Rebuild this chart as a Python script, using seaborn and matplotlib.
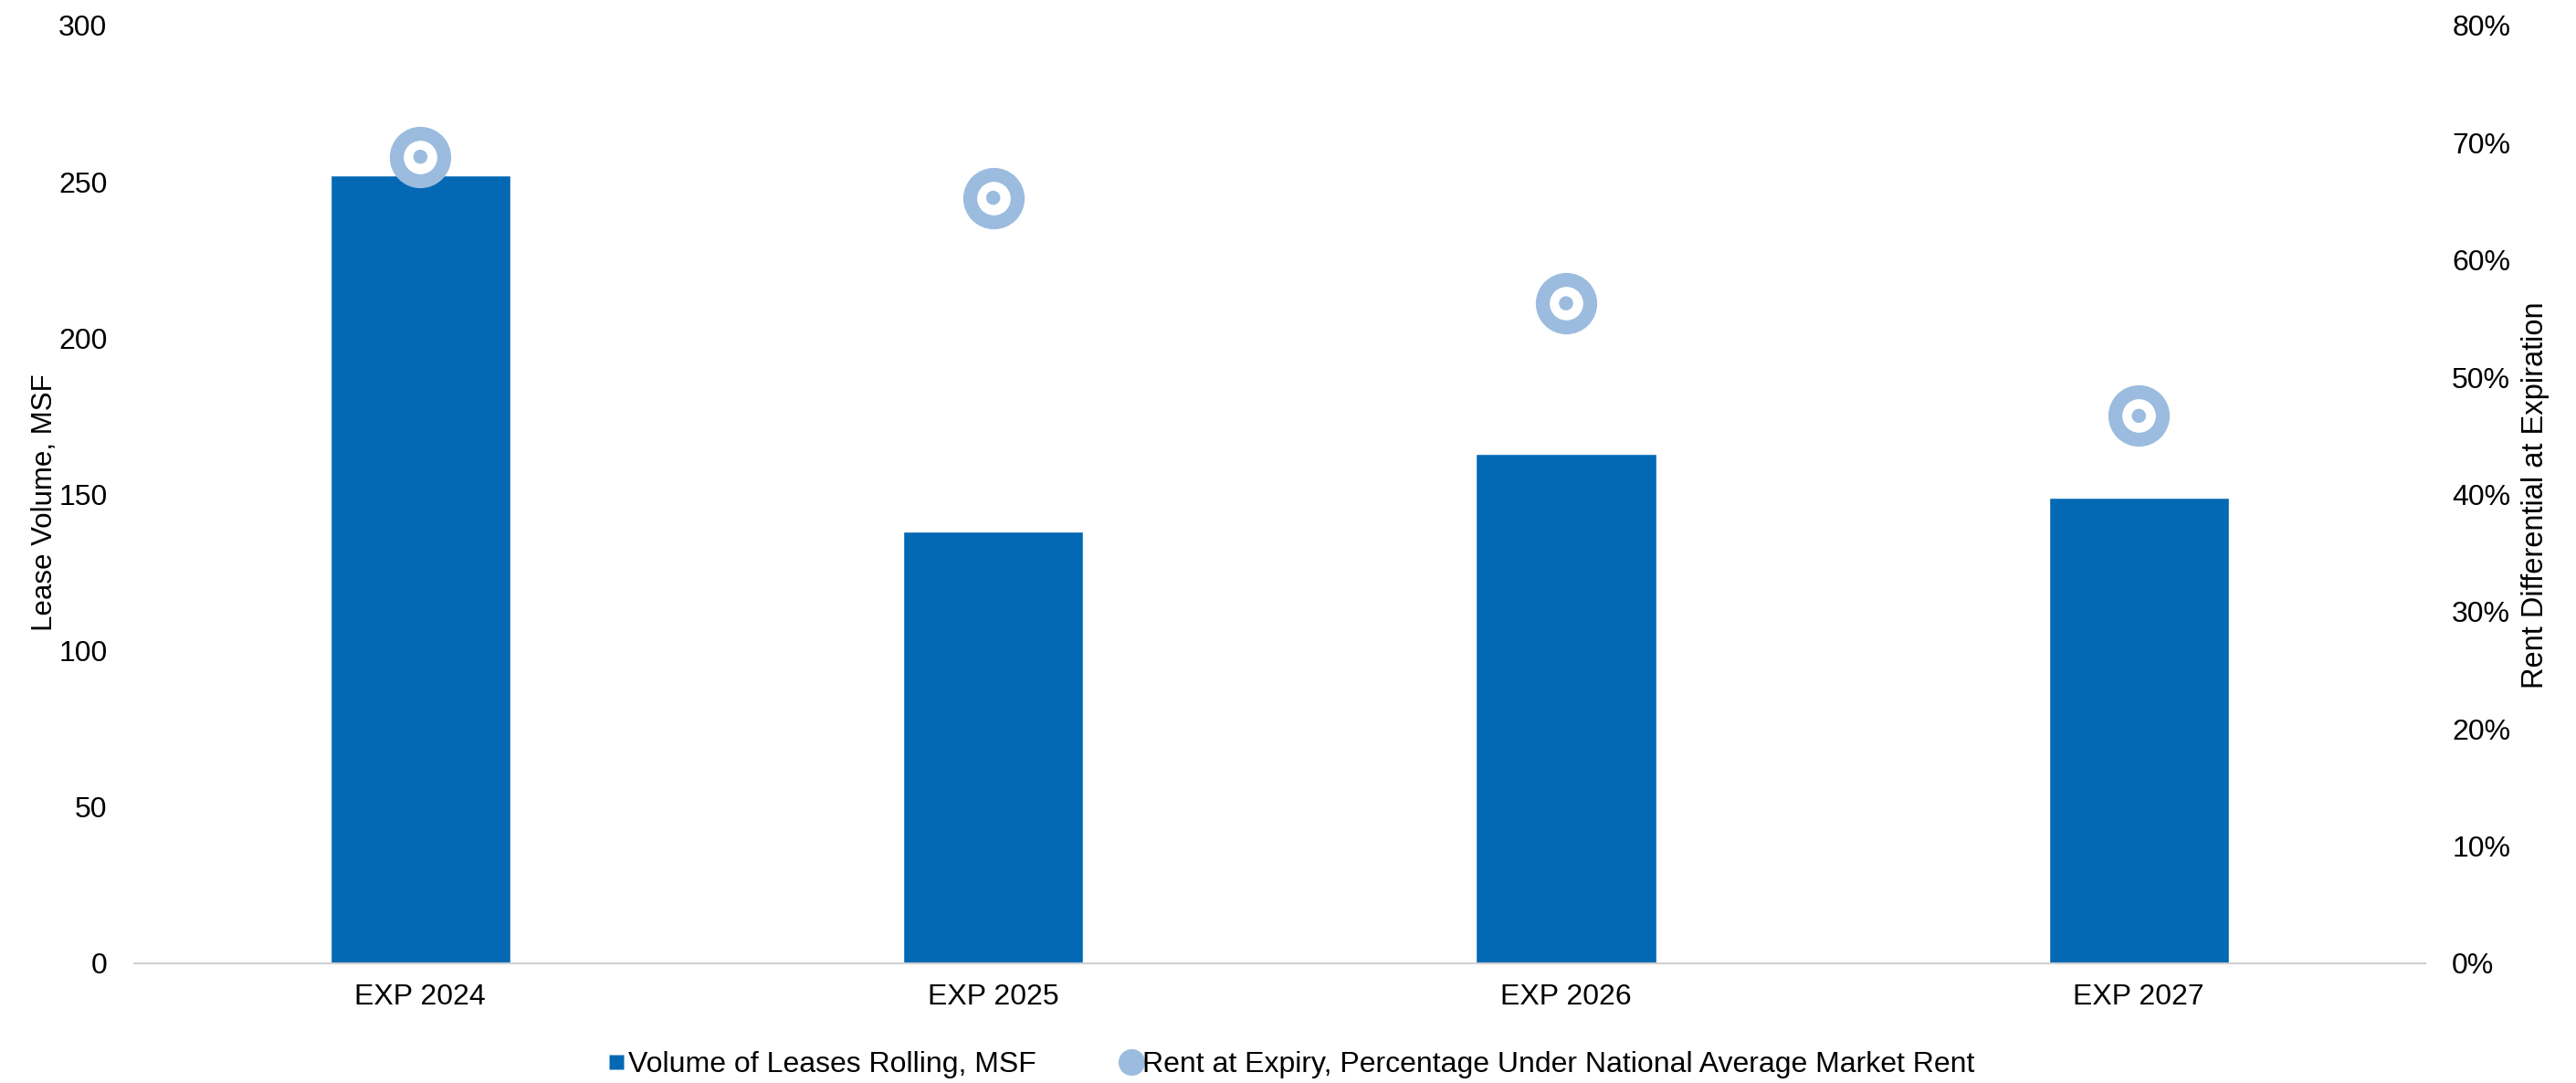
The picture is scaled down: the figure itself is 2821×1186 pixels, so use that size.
import pandas as pd
import matplotlib.pyplot as plt
import seaborn as sns
from matplotlib.lines import Line2D
from matplotlib.ticker import PercentFormatter

# Data
years = ['EXP 2024', 'EXP 2025', 'EXP 2026', 'EXP 2027']
volume_msf = [252, 138, 163, 149]
rent_below_market = [68.8, 65.3, 56.3, 46.7]

df = pd.DataFrame({'year': years, 'volume': volume_msf, 'rent': rent_below_market})

bar_color = '#0469B4'
dot_color = '#9BBCDE'

sns.set_style('white')
plt.rcParams['font.family'] = ['Liberation Sans', 'DejaVu Sans']
plt.rcParams['font.size'] = 23
plt.rcParams['text.color'] = 'black'
plt.rcParams['xtick.color'] = 'black'
plt.rcParams['ytick.color'] = 'black'

fig = plt.figure(figsize=(28.21, 11.86), dpi=100)
ax = fig.add_axes([0.052, 0.1105, 0.8895, 0.866])

sns.barplot(data=df, x='year', y='volume', color=bar_color, width=0.315,
            saturation=1, ax=ax)
ax.set_ylim(0, 300)
ax.set_xlim(-0.5, 3.5)
ax.set_yticks(range(0, 301, 50))
ax.set_xlabel('')
ax.set_ylabel('')
ax.tick_params(axis='y', length=0, pad=21, labelsize=23)
ax.tick_params(axis='x', length=0, pad=16, labelsize=23)
for s in ['top', 'right', 'left']:
    ax.spines[s].set_visible(False)
ax.spines['bottom'].set_color('#D0D0D0')
ax.spines['bottom'].set_linewidth(1.5)

# Rent differential as ring markers on the secondary axis
ax2 = ax.twinx()
sns.scatterplot(data=df, x='year', y='rent', ax=ax2, s=1400, marker='o',
                facecolor='white', edgecolor=dot_color, linewidth=11, zorder=3)
sns.scatterplot(data=df, x='year', y='rent', ax=ax2, s=125, marker='o',
                color=dot_color, edgecolor='none', zorder=4)
ax2.set_ylim(0, 80)
ax2.set_yticks(range(0, 81, 10))
ax2.yaxis.set_major_formatter(PercentFormatter(decimals=0))
ax2.set_ylabel('')
ax2.tick_params(axis='y', length=0, pad=21, labelsize=23)
for s in ['top', 'right', 'left', 'bottom']:
    ax2.spines[s].set_visible(False)
ax2.set_xlim(-0.5, 3.5)

# axis titles
fig.text(49 / 2821, 1 - 550 / 1186, 'Lease Volume, MSF', rotation=90,
         ha='center', va='center', fontsize=22.5)
fig.text(2776 / 2821, 1 - 542 / 1186, 'Rent Differential at Expiration',
         rotation=90, ha='center', va='center', fontsize=23.5)

handles = [
    Line2D([], [], marker='s', linestyle='none', markersize=11,
           markerfacecolor=bar_color, markeredgecolor='none'),
    Line2D([], [], marker='o', linestyle='none', markersize=21,
           markerfacecolor=dot_color, markeredgecolor='none'),
]
labels = ['Volume of Leases Rolling, MSF',
          'Rent at Expiry, Percentage Under National Average Market Rent']
fig.legend(handles, labels, loc='center', bbox_to_anchor=(0.501, 0.017),
           ncol=2, frameon=False, handletextpad=0.05, columnspacing=2.9,
           handlelength=0.7, fontsize=23)

fig.savefig('out.png', dpi=100)
